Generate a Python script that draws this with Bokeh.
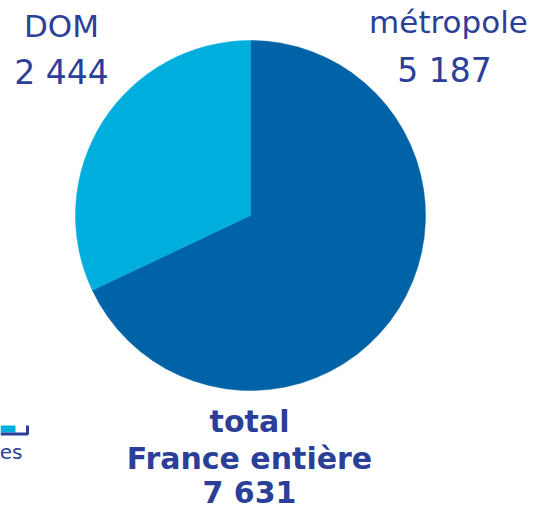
import math
from bokeh.plotting import figure
from bokeh.models import Range1d, ColumnDataSource
from bokeh.core.properties import value
from bokeh.embed import file_html
from bokeh.resources import INLINE

# --- data ---
categories = ["métropole", "DOM"]
values = [5187, 2444]
colors = ["#0063a7", "#00aedd"]
total_label = ["total", "France entière"]
legend_fragment = "es"

NAVY = "#2b3f98"

def fmt(n):
    return f"{n:,}".replace(",", " ")

total = sum(values)

W, H = 533, 513
def Y(py):
    return H - py

p = figure(width=W, height=H, output_backend="svg", toolbar_location=None,
           x_range=Range1d(0, W), y_range=Range1d(0, H),
           min_border=0, outline_line_color=None)
p.axis.visible = False
p.grid.visible = False
p.background_fill_color = "white"
p.border_fill_color = "white"

# pie: metropole clockwise from top, DOM after
cx, cy, r = 250, Y(215), 175
ends, starts = [], []
cur = math.pi / 2
for v in values:
    a = 2 * math.pi * v / total
    ends.append(cur)
    starts.append(cur - a)
    cur -= a
src = ColumnDataSource(dict(start=starts, end=ends, color=colors, cat=categories))
p.wedge(x=cx, y=cy, radius=r, start_angle="start", end_angle="end",
        fill_color="color", line_color="color", line_width=0.5, source=src,
        direction="anticlock")

# category labels
p.text(x=[61, 448], y=[Y(25), Y(21)], text=[categories[1], categories[0]],
       text_font=value("DejaVu Sans"), text_font_size="31px", text_color=NAVY,
       text_align="center", text_baseline="alphabetic")
p.text(x=[61, 444], y=[Y(72), Y(70)], text=[fmt(values[1]), fmt(values[0])],
       text_font=value("DejaVu Sans"), text_font_size="33px", text_color=NAVY,
       text_align="center", text_baseline="alphabetic")

# total block
p.text(x=[249, 249, 249], y=[Y(421), Y(458), Y(492)],
       text=[total_label[0], total_label[1], fmt(total)],
       text_font=value("DejaVu Sans"), text_font_style="bold", text_font_size="30px",
       text_color=NAVY, text_align="center", text_baseline="alphabetic")

# partial legend fragment at bottom-left
p.quad(left=[0], right=[15], top=[Y(425)], bottom=[Y(432)],
       fill_color=colors[1], line_color=None)
p.line(x=[0, 27, 27], y=[Y(433.5), Y(433.5), Y(425)], line_color=NAVY, line_width=3)
p.text(x=[22], y=[Y(451)], text=[legend_fragment],
       text_font=value("DejaVu Sans"), text_font_size="20px", text_color=NAVY,
       text_align="right", text_baseline="alphabetic")

open("out.html", "w").write(file_html(p, INLINE))
